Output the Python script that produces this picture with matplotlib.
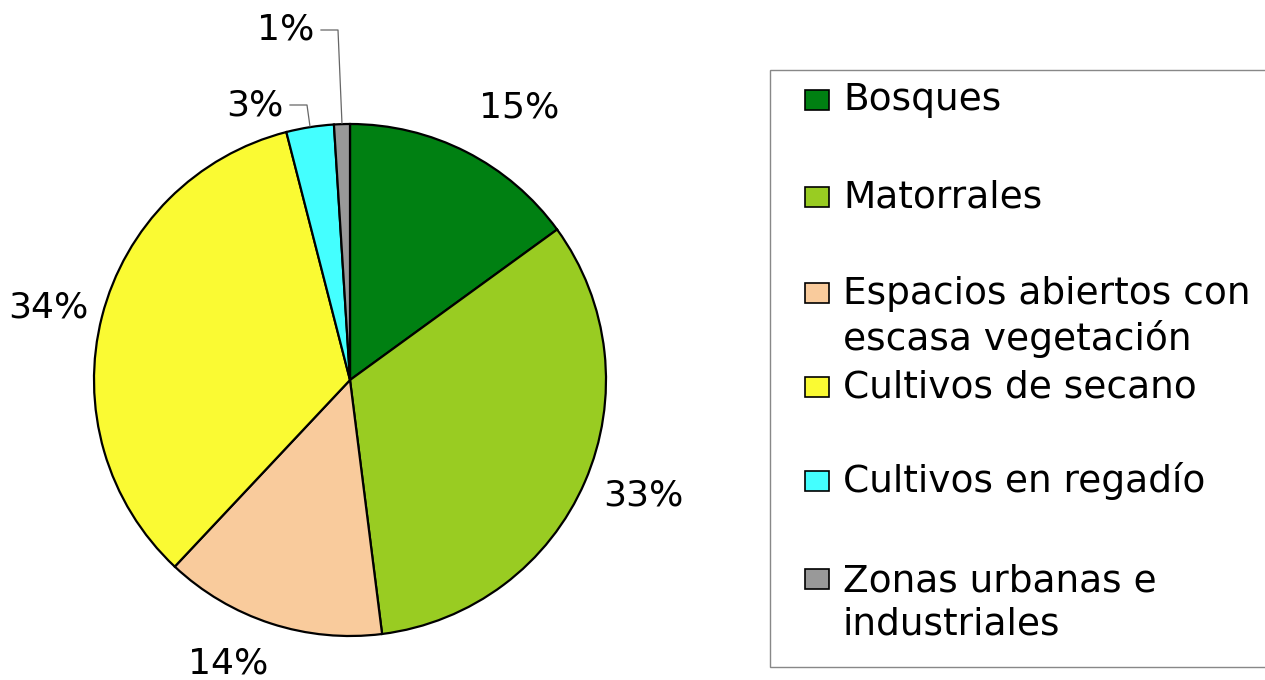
import numpy as np
import matplotlib
matplotlib.use("Agg")
import matplotlib.pyplot as plt
from matplotlib.patches import Rectangle

plt.rcParams['font.family'] = ['DejaVu Sans']

# Land use share (%)
categories = ["Bosques", "Matorrales", "Espacios abiertos con\nescasa vegetación",
              "Cultivos de secano", "Cultivos en regadío", "Zonas urbanas e\nindustriales"]
values = [15, 33, 14, 34, 3, 1]
colors = ["#008012", "#99CC22", "#F9CB9C", "#FAFA33", "#44FFFF", "#999999"]

W, H = 1265, 680
fig = plt.figure(figsize=(W / 100, H / 100), dpi=100)
ax = fig.add_axes([0, 0, 1, 1])

cx, cy, R = 350, 300, 256
wedges, _ = ax.pie(values, colors=colors, startangle=90, counterclock=False,
                   center=(cx, cy), radius=R, frame=True,
                   wedgeprops=dict(edgecolor="black", linewidth=1.6))
ax.set_xlim(0, W)
ax.set_ylim(0, H)
ax.set_aspect("equal")
ax.axis("off")

fs = 26
# label positions (pixels from top-left), in slice order
label_pos = [(519, 108), (643, 495), (228, 663), (48, 307), (255, 105), (286, 30)]
total = sum(values)
start = 90.0
for v, (lx, ly) in zip(values, label_pos):
    mid = start - v / total * 360 / 2
    start -= v / total * 360
    label = f"{v}%"
    ly = H - ly
    if v >= 10:
        ax.text(lx, ly, label, fontsize=fs, ha="center", va="center")
    else:
        a = np.deg2rad(mid)
        px = cx + R * np.cos(a)
        py = cy + R * np.sin(a)
        x0 = lx + 35
        ax.plot([x0, x0 + 17, px], [ly, ly, py + 1], color="#666666", lw=0.9)
        ax.text(lx, ly, label, fontsize=fs, ha="center", va="center")

# legend box drawn by hand to match the layout
ax.add_patch(Rectangle((770, H - 667), 520, 597, facecolor="white",
                       edgecolor="#888888", lw=1.0))
rows = [100, 197, 293, 387, 481, 579]
line_h = 48
for lab, col, y in zip(categories, colors, rows):
    yy = H - y
    ax.add_patch(Rectangle((805, yy - 10), 24, 20, facecolor=col,
                           edgecolor="black", lw=1.2))
    nl = lab.count("\n")
    ax.text(843, yy - nl * line_h / 2, lab, fontsize=27, ha="left", va="center",
            linespacing=1.28)

fig.savefig("out.png", dpi=100)
